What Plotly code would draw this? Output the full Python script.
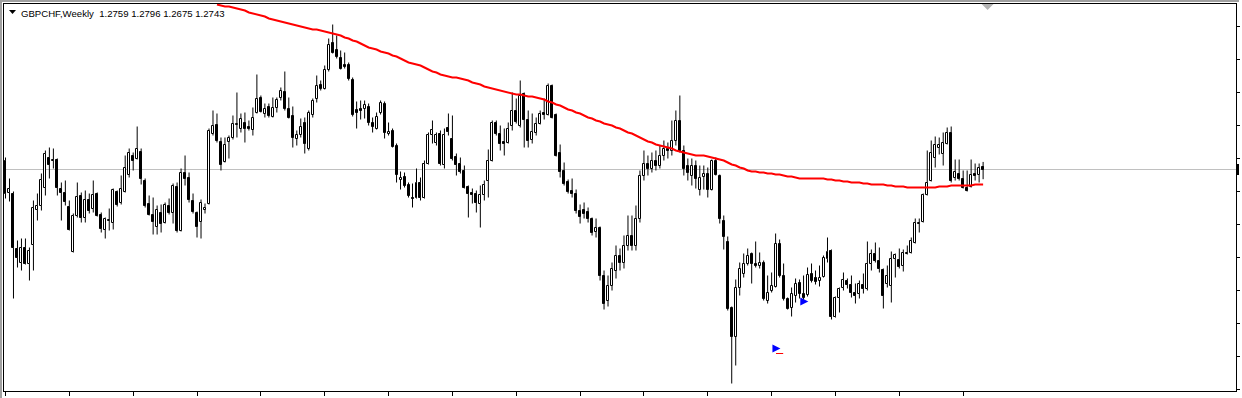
import plotly.graph_objects as go

# ---------------- data (weekly GBPCHF bars) ----------------
opens = [
 1.2806, 1.2582, 1.2575, 1.2190, 1.2092, 1.2197, 1.2085, 1.2218, 1.2463, 1.2491,
 1.2617, 1.2827, 1.2806, 1.2813, 1.2610, 1.2582, 1.2484, 1.2169, 1.2421, 1.2561,
 1.2407, 1.2533, 1.2470, 1.2575, 1.2428, 1.2323, 1.2386, 1.2372, 1.2589, 1.2512,
 1.2589, 1.2708, 1.2841, 1.2820, 1.2869, 1.2666, 1.2505, 1.2428, 1.2344, 1.2442,
 1.2372, 1.2491, 1.2442, 1.2624, 1.2316, 1.2722, 1.2687, 1.2526, 1.2442, 1.2379,
 1.2463, 1.2505, 1.2995, 1.3058, 1.2939, 1.2799, 1.2939, 1.2967, 1.3058, 1.3030,
 1.3072, 1.3044, 1.3023, 1.3142, 1.3247, 1.3135, 1.3184, 1.3114, 1.3177, 1.3247,
 1.3289, 1.3170, 1.3121, 1.2960, 1.2988, 1.3072, 1.2890, 1.3128, 1.3240, 1.3338,
 1.3310, 1.3443, 1.3632, 1.3583, 1.3527, 1.3478, 1.3478, 1.3373, 1.3163, 1.3170,
 1.3170, 1.3184, 1.3072, 1.3030, 1.3142, 1.3205, 1.2995, 1.3016, 1.2911, 1.2673,
 1.2694, 1.2638, 1.2547, 1.2547, 1.2652, 1.2547, 1.2785, 1.2988, 1.2932, 1.2995,
 1.2778, 1.3037, 1.2960, 1.2834, 1.2785, 1.2736, 1.2624, 1.2582, 1.2575, 1.2505,
 1.2568, 1.2666, 1.2806, 1.3072, 1.2995, 1.2939, 1.2932, 1.3051, 1.3156, 1.3051,
 1.3275, 1.3093, 1.2953, 1.3002, 1.3065, 1.3142, 1.3128, 1.3331, 1.3128, 1.2862,
 1.2736, 1.2659, 1.2596, 1.2575, 1.2456, 1.2463, 1.2449, 1.2400, 1.2309, 1.2337,
 1.2001, 1.1826, 1.1931, 1.2036, 1.2141, 1.2092, 1.2211, 1.2281, 1.2211, 1.2400,
 1.2701, 1.2785, 1.2750, 1.2806, 1.2771, 1.2841, 1.2890, 1.2876, 1.2946, 1.3086,
 1.2876, 1.2771, 1.2701, 1.2771, 1.2603, 1.2694, 1.2715, 1.2603, 1.2806, 1.2701,
 1.2386, 1.2239, 1.1777, 1.1574, 1.1917, 1.2015, 1.2085, 1.2155, 1.2085, 1.2071,
 1.2092, 1.1826, 1.1896, 1.1924, 1.2225, 1.2001, 1.1840, 1.1777, 1.1861, 1.1952,
 1.1875, 1.1868, 1.2015, 1.1987, 1.1966, 1.1994, 1.2120, 1.2176, 1.1714, 1.1847,
 1.1917, 1.1966, 1.1938, 1.1882, 1.1875, 1.1938, 1.1910, 1.2085, 1.2155, 1.2106,
 1.2043, 1.1945, 1.1931, 1.2120, 1.2113, 1.2071, 1.2155, 1.2162, 1.2232, 1.2365,
 1.2379, 1.2568, 1.2666, 1.2827, 1.2897, 1.2855, 1.2925, 1.3002, 1.2687, 1.2715,
 1.2680, 1.2617, 1.2624, 1.2715, 1.2708, 1.2759,
]
highs = [
 1.2827, 1.2680, 1.2589, 1.2246, 1.2260, 1.2260, 1.2197, 1.2526, 1.2575, 1.2715,
 1.2876, 1.2897, 1.2890, 1.2820, 1.2652, 1.2666, 1.2526, 1.2435, 1.2652, 1.2582,
 1.2596, 1.2575, 1.2666, 1.2582, 1.2442, 1.2407, 1.2470, 1.2610, 1.2596, 1.2701,
 1.2841, 1.2890, 1.2862, 1.3044, 1.2890, 1.2680, 1.2561, 1.2547, 1.2491, 1.2498,
 1.2512, 1.2540, 1.2645, 1.2652, 1.2750, 1.2841, 1.2722, 1.2575, 1.2449, 1.2533,
 1.2505, 1.3030, 1.3156, 1.3135, 1.2967, 1.2967, 1.2981, 1.3121, 1.3282, 1.3135,
 1.3142, 1.3086, 1.3177, 1.3408, 1.3261, 1.3205, 1.3205, 1.3247, 1.3247, 1.3317,
 1.3429, 1.3247, 1.3184, 1.3016, 1.3100, 1.3107, 1.3156, 1.3240, 1.3401, 1.3366,
 1.3471, 1.3660, 1.3758, 1.3681, 1.3576, 1.3562, 1.3492, 1.3387, 1.3219, 1.3226,
 1.3226, 1.3205, 1.3107, 1.3142, 1.3226, 1.3219, 1.3072, 1.3030, 1.2925, 1.2729,
 1.2722, 1.2652, 1.2645, 1.2750, 1.2687, 1.2806, 1.3002, 1.3086, 1.3002, 1.3016,
 1.3030, 1.3135, 1.3121, 1.2855, 1.2827, 1.2771, 1.2631, 1.2610, 1.2596, 1.2631,
 1.2666, 1.2883, 1.3086, 1.3086, 1.3051, 1.3030, 1.3072, 1.3282, 1.3240, 1.3366,
 1.3282, 1.3156, 1.3135, 1.3107, 1.3156, 1.3240, 1.3345, 1.3338, 1.3135, 1.2918,
 1.2792, 1.2673, 1.2680, 1.2603, 1.2498, 1.2512, 1.2477, 1.2407, 1.2400, 1.2344,
 1.2036, 1.2001, 1.2092, 1.2211, 1.2190, 1.2281, 1.2421, 1.2421, 1.2491, 1.2736,
 1.2876, 1.2841, 1.2862, 1.2876, 1.2911, 1.2946, 1.2932, 1.3086, 1.3156, 1.3261,
 1.2911, 1.2820, 1.2820, 1.2806, 1.2771, 1.2771, 1.2757, 1.2813, 1.2827, 1.2708,
 1.2421, 1.2274, 1.1784, 1.1973, 1.2092, 1.2155, 1.2190, 1.2162, 1.2239, 1.2162,
 1.2106, 1.2001, 1.2022, 1.2295, 1.2253, 1.2085, 1.1847, 1.1917, 1.1980, 1.1973,
 1.2001, 1.2057, 1.2085, 1.2036, 1.2071, 1.2141, 1.2267, 1.2183, 1.1854, 1.1917,
 1.2022, 1.1980, 1.2001, 1.1945, 1.1966, 1.2015, 1.2239, 1.2183, 1.2232, 1.2197,
 1.2050, 1.2071, 1.2169, 1.2155, 1.2190, 1.2183, 1.2211, 1.2267, 1.2400, 1.2400,
 1.2575, 1.2876, 1.2946, 1.2974, 1.2967, 1.3002, 1.3037, 1.3044, 1.2813, 1.2813,
 1.2736, 1.2736, 1.2813, 1.2785, 1.2785, 1.2796,
]
lows = [
 1.2540, 1.2519, 1.1840, 1.2057, 1.2036, 1.2078, 1.1966, 1.2036, 1.2386, 1.2456,
 1.2561, 1.2680, 1.2750, 1.2561, 1.2386, 1.2491, 1.2316, 1.2162, 1.2407, 1.2372,
 1.2372, 1.2435, 1.2442, 1.2414, 1.2302, 1.2260, 1.2316, 1.2323, 1.2484, 1.2498,
 1.2582, 1.2687, 1.2736, 1.2813, 1.2638, 1.2477, 1.2421, 1.2288, 1.2288, 1.2302,
 1.2365, 1.2428, 1.2365, 1.2302, 1.2309, 1.2631, 1.2512, 1.2435, 1.2267, 1.2260,
 1.2435, 1.2498, 1.2981, 1.2932, 1.2736, 1.2792, 1.2820, 1.2953, 1.2967, 1.3002,
 1.2932, 1.3016, 1.2981, 1.3135, 1.3142, 1.3107, 1.3107, 1.3107, 1.3142, 1.3226,
 1.3156, 1.3100, 1.2897, 1.2911, 1.2967, 1.2855, 1.2876, 1.3107, 1.3212, 1.3296,
 1.3303, 1.3429, 1.3555, 1.3520, 1.3443, 1.3450, 1.3366, 1.3114, 1.3030, 1.3093,
 1.3100, 1.3051, 1.3002, 1.3023, 1.3128, 1.2960, 1.2981, 1.2897, 1.2652, 1.2603,
 1.2617, 1.2547, 1.2477, 1.2540, 1.2526, 1.2540, 1.2778, 1.2925, 1.2911, 1.2771,
 1.2750, 1.2981, 1.2806, 1.2701, 1.2715, 1.2610, 1.2407, 1.2505, 1.2442, 1.2337,
 1.2526, 1.2547, 1.2799, 1.2981, 1.2876, 1.2841, 1.2925, 1.3016, 1.3065, 1.3037,
 1.2897, 1.2897, 1.2925, 1.2981, 1.3058, 1.3093, 1.3121, 1.3100, 1.2834, 1.2687,
 1.2631, 1.2575, 1.2547, 1.2435, 1.2365, 1.2400, 1.2372, 1.2281, 1.2267, 1.1966,
 1.1763, 1.1784, 1.1896, 1.1980, 1.2036, 1.2050, 1.2176, 1.2176, 1.2176, 1.2372,
 1.2666, 1.2701, 1.2722, 1.2736, 1.2750, 1.2806, 1.2820, 1.2841, 1.2911, 1.2862,
 1.2701, 1.2666, 1.2631, 1.2610, 1.2561, 1.2603, 1.2547, 1.2596, 1.2701, 1.2365,
 1.2183, 1.1756, 1.1245, 1.1371, 1.1861, 1.1987, 1.2071, 1.1945, 1.2057, 1.2050,
 1.1826, 1.1805, 1.1882, 1.1917, 1.1987, 1.1826, 1.1763, 1.1714, 1.1812, 1.1840,
 1.1826, 1.1854, 1.1952, 1.1938, 1.1924, 1.1987, 1.2092, 1.1693, 1.1707, 1.1742,
 1.1896, 1.1910, 1.1847, 1.1805, 1.1840, 1.1875, 1.1896, 1.2036, 1.2092, 1.2022,
 1.1770, 1.1917, 1.1812, 1.1987, 1.2050, 1.2029, 1.2148, 1.2155, 1.2225, 1.2302,
 1.2372, 1.2561, 1.2659, 1.2757, 1.2848, 1.2771, 1.2918, 1.2652, 1.2666, 1.2666,
 1.2610, 1.2589, 1.2617, 1.2666, 1.2652, 1.2675,
]
closes = [
 1.2575, 1.2610, 1.2197, 1.2127, 1.2197, 1.2085, 1.2176, 1.2477, 1.2491, 1.2673,
 1.2855, 1.2778, 1.2813, 1.2617, 1.2582, 1.2519, 1.2323, 1.2421, 1.2554, 1.2407,
 1.2533, 1.2456, 1.2568, 1.2421, 1.2330, 1.2400, 1.2393, 1.2603, 1.2498, 1.2610,
 1.2757, 1.2862, 1.2806, 1.2890, 1.2680, 1.2491, 1.2428, 1.2379, 1.2463, 1.2365,
 1.2498, 1.2442, 1.2631, 1.2316, 1.2722, 1.2680, 1.2533, 1.2449, 1.2344, 1.2512,
 1.2477, 1.3016, 1.3051, 1.2946, 1.2778, 1.2918, 1.2967, 1.3065, 1.3065, 1.3100,
 1.3030, 1.3030, 1.3107, 1.3240, 1.3149, 1.3170, 1.3121, 1.3177, 1.3233, 1.3296,
 1.3170, 1.3107, 1.2967, 1.2988, 1.3044, 1.2925, 1.3142, 1.3226, 1.3331, 1.3310,
 1.3443, 1.3618, 1.3562, 1.3534, 1.3450, 1.3464, 1.3380, 1.3128, 1.3142, 1.3156,
 1.3198, 1.3072, 1.3044, 1.3114, 1.3212, 1.3002, 1.3009, 1.2904, 1.2708, 1.2687,
 1.2631, 1.2561, 1.2540, 1.2652, 1.2547, 1.2785, 1.2988, 1.3023, 1.2988, 1.2785,
 1.2988, 1.3009, 1.2820, 1.2778, 1.2729, 1.2617, 1.2575, 1.2568, 1.2512, 1.2568,
 1.2638, 1.2806, 1.3072, 1.2995, 1.2925, 1.2925, 1.3030, 1.3156, 1.3079, 1.3261,
 1.3093, 1.2946, 1.3009, 1.3065, 1.3135, 1.3128, 1.3331, 1.3107, 1.2841, 1.2729,
 1.2645, 1.2589, 1.2575, 1.2456, 1.2414, 1.2435, 1.2400, 1.2302, 1.2337, 1.2001,
 1.1805, 1.1931, 1.2050, 1.2141, 1.2092, 1.2211, 1.2281, 1.2211, 1.2400, 1.2701,
 1.2785, 1.2750, 1.2806, 1.2771, 1.2841, 1.2890, 1.2876, 1.2946, 1.3086, 1.2876,
 1.2750, 1.2722, 1.2771, 1.2680, 1.2687, 1.2715, 1.2603, 1.2806, 1.2708, 1.2400,
 1.2274, 1.1770, 1.1574, 1.1917, 1.2050, 1.2085, 1.2141, 1.2085, 1.2071, 1.2092,
 1.1840, 1.1882, 1.1931, 1.2225, 1.2001, 1.1840, 1.1770, 1.1875, 1.1945, 1.1875,
 1.1847, 1.2008, 1.1966, 1.1959, 1.1987, 1.2127, 1.2169, 1.1714, 1.1847, 1.1910,
 1.1973, 1.1938, 1.1882, 1.1861, 1.1945, 1.1910, 1.2085, 1.2155, 1.2106, 1.2050,
 1.1861, 1.2001, 1.2120, 1.2148, 1.2064, 1.2162, 1.2162, 1.2246, 1.2372, 1.2372,
 1.2568, 1.2652, 1.2862, 1.2918, 1.2918, 1.2932, 1.3002, 1.2666, 1.2729, 1.2680,
 1.2617, 1.2596, 1.2708, 1.2701, 1.2757, 1.2743,
]
# red moving average, visible from bar 53 onwards
ma_start = 53
ma_values = [
 1.3898, 1.3891, 1.3884, 1.3884, 1.3877, 1.3870, 1.3863, 1.3856, 1.3842, 1.3835,
 1.3828, 1.3821, 1.3814, 1.3800, 1.3793, 1.3786, 1.3779, 1.3772, 1.3765, 1.3758,
 1.3751, 1.3744, 1.3737, 1.3730, 1.3723, 1.3723, 1.3716, 1.3709, 1.3702, 1.3695,
 1.3688, 1.3681, 1.3667, 1.3660, 1.3646, 1.3639, 1.3625, 1.3611, 1.3597, 1.3590,
 1.3583, 1.3569, 1.3562, 1.3555, 1.3541, 1.3534, 1.3520, 1.3506, 1.3492, 1.3485,
 1.3478, 1.3471, 1.3457, 1.3443, 1.3429, 1.3422, 1.3408, 1.3401, 1.3394, 1.3387,
 1.3387, 1.3380, 1.3373, 1.3366, 1.3352, 1.3345, 1.3338, 1.3324, 1.3317, 1.3310,
 1.3303, 1.3296, 1.3289, 1.3282, 1.3275, 1.3268, 1.3268, 1.3261, 1.3254, 1.3254,
 1.3247, 1.3240, 1.3233, 1.3219, 1.3212, 1.3198, 1.3191, 1.3177, 1.3163, 1.3156,
 1.3142, 1.3135, 1.3121, 1.3107, 1.3100, 1.3086, 1.3079, 1.3065, 1.3058, 1.3051,
 1.3037, 1.3030, 1.3016, 1.3002, 1.2995, 1.2981, 1.2967, 1.2953, 1.2939, 1.2932,
 1.2918, 1.2911, 1.2904, 1.2897, 1.2890, 1.2876, 1.2869, 1.2862, 1.2855, 1.2848,
 1.2841, 1.2841, 1.2841, 1.2834, 1.2827, 1.2820, 1.2813, 1.2806, 1.2792, 1.2778,
 1.2771, 1.2757, 1.2750, 1.2736, 1.2729, 1.2729, 1.2722, 1.2722, 1.2715, 1.2715,
 1.2708, 1.2708, 1.2701, 1.2694, 1.2694, 1.2687, 1.2680, 1.2680, 1.2680, 1.2680,
 1.2680, 1.2680, 1.2680, 1.2673, 1.2673, 1.2666, 1.2666, 1.2659, 1.2659, 1.2652,
 1.2652, 1.2652, 1.2645, 1.2645, 1.2638, 1.2638, 1.2638, 1.2638, 1.2631, 1.2631,
 1.2624, 1.2624, 1.2624, 1.2617, 1.2617, 1.2617, 1.2617, 1.2617, 1.2617, 1.2617,
 1.2617, 1.2624, 1.2624, 1.2624, 1.2631, 1.2631, 1.2631, 1.2631, 1.2631, 1.2631,
 1.2638, 1.2638, 1.2638,
]
# trade arrows (bar position, price) and the short red level mark
arrow_bar = [194.2, 201.2]
arrow_price = [1.1490, 1.1819]
mark_bar = [193.1, 194.9]
mark_price = [1.1455, 1.1455]

symbol = "GBPCHF,Weekly"
last_ohlc = [1.2759, 1.2796, 1.2675, 1.2743]
bid_price = 1.2743
x_tick_bars = list(range(0, 246, 16))

# ---------------- figure ----------------
W_FIG, H_FIG = 1242, 398
PL, PR, PT, PB = 4, 1239, 4, 391
PW, PH = PR - PL, PB - PT

def fx(p):  # pixel x -> paper
    return (p - PL) / PW

def fy(p):  # pixel y -> paper
    return (PB - p) / PH

n = len(opens)
idx = list(range(n))

bull_x, bull_base, bull_h = [], [], []
bear_x, bear_base, bear_h = [], [], []
wx, wy = [], []
for i in idx:
    o, h, l, c = opens[i], highs[i], lows[i], closes[i]
    top, bot = max(o, c), min(o, c)
    if c >= o:
        bull_x.append(i); bull_base.append(bot); bull_h.append(top - bot)
    else:
        bear_x.append(i); bear_base.append(bot); bear_h.append(top - bot)
    wx += [i, i, None, i, i, None]
    wy += [top, h, None, l, bot, None]

fig = go.Figure()
fig.add_trace(go.Bar(x=bear_x, y=bear_h, base=bear_base, width=0.5,
                     marker=dict(color="black", line=dict(color="black", width=1))))
fig.add_trace(go.Bar(x=bull_x, y=bull_h, base=bull_base, width=0.5,
                     marker=dict(color="white", line=dict(color="black", width=1))))
fig.add_trace(go.Scatter(x=wx, y=wy, mode="lines",
                         line=dict(color="black", width=1)))
fig.add_trace(go.Scatter(x=list(range(ma_start, ma_start + len(ma_values))), y=ma_values,
                         mode="lines", line=dict(color="#ff0000", width=2)))
fig.add_trace(go.Scatter(x=mark_bar, y=mark_price, mode="lines",
                         line=dict(color="#ff0000", width=1)))
fig.add_trace(go.Scatter(x=arrow_bar, y=arrow_price, mode="markers",
                         marker=dict(symbol="arrow-right", size=8, color="#0000ff",
                                     line=dict(width=0))))

xmin = -0.375
xmax = xmin + PW / 4.0
ytop = 1.39295 - 0.0007 * PT
ybot = 1.39295 - 0.0007 * PB

shapes = [
    # bid line
    dict(type="line", xref="paper", yref="y", x0=0, x1=1, y0=bid_price, y1=bid_price,
         line=dict(color="#c0c0c0", width=1), layer="below"),
    # window frame (grey) top and left
    dict(type="rect", xref="paper", yref="paper", x0=fx(0), x1=fx(W_FIG), y0=fy(0), y1=fy(2),
         fillcolor="#a0a0a0", line=dict(width=0)),
    dict(type="rect", xref="paper", yref="paper", x0=fx(0), x1=fx(2), y0=fy(0), y1=fy(H_FIG),
         fillcolor="#a0a0a0", line=dict(width=0)),
    # title triangle
    dict(type="path", xref="paper", yref="paper",
         path=f"M {fx(9)} {fy(10)} L {fx(16)} {fy(10)} L {fx(12.5)} {fy(14)} Z",
         fillcolor="black", line=dict(width=0)),
    # chart-shift marker at top
    dict(type="path", xref="paper", yref="paper",
         path=f"M {fx(984)} {fy(4)} L {fx(996)} {fy(4)} L {fx(990)} {fy(10)} Z",
         fillcolor="#b4b4b4", line=dict(width=0)),
    # edge of the price label on the right axis
    dict(type="rect", xref="paper", yref="paper", x0=fx(1239), x1=fx(1242), y0=fy(175), y1=fy(164),
         fillcolor="black", line=dict(width=0)),
]

title_text = symbol + "\u00a0\u00a0" + " ".join(f"{v:.4f}" for v in last_ohlc)

fig.update_layout(
    width=W_FIG, height=H_FIG,
    margin=dict(l=PL, r=W_FIG - PR, t=PT, b=H_FIG - PB, pad=0),
    paper_bgcolor="white", plot_bgcolor="white",
    showlegend=False, hovermode=False, barmode="overlay", bargap=0,
    shapes=shapes,
    annotations=[dict(text=title_text, xref="paper", yref="paper",
                      x=fx(19), y=fy(13), xanchor="left", yanchor="middle",
                      showarrow=False,
                      font=dict(family="Liberation Sans, Arial, sans-serif", size=9.6, color="black"))],
    xaxis=dict(range=[xmin, xmax], showgrid=False, zeroline=False,
               showline=True, linecolor="black", linewidth=1, mirror=True,
               tickmode="array", tickvals=x_tick_bars, ticks="outside", ticklen=4,
               tickcolor="black", tickwidth=1, showticklabels=False, fixedrange=True),
    yaxis=dict(range=[ybot, ytop], showgrid=False, zeroline=False, side="right",
               showline=True, linecolor="black", linewidth=1, mirror=True,
               tick0=1.3744, dtick=0.0231, ticks="outside", ticklen=3,
               tickcolor="black", tickwidth=1, showticklabels=False, fixedrange=True),
)

fig.write_html("out.html", config={"displayModeBar": False},
               post_script="document.body.style.margin='0';document.body.style.overflow='hidden';")
